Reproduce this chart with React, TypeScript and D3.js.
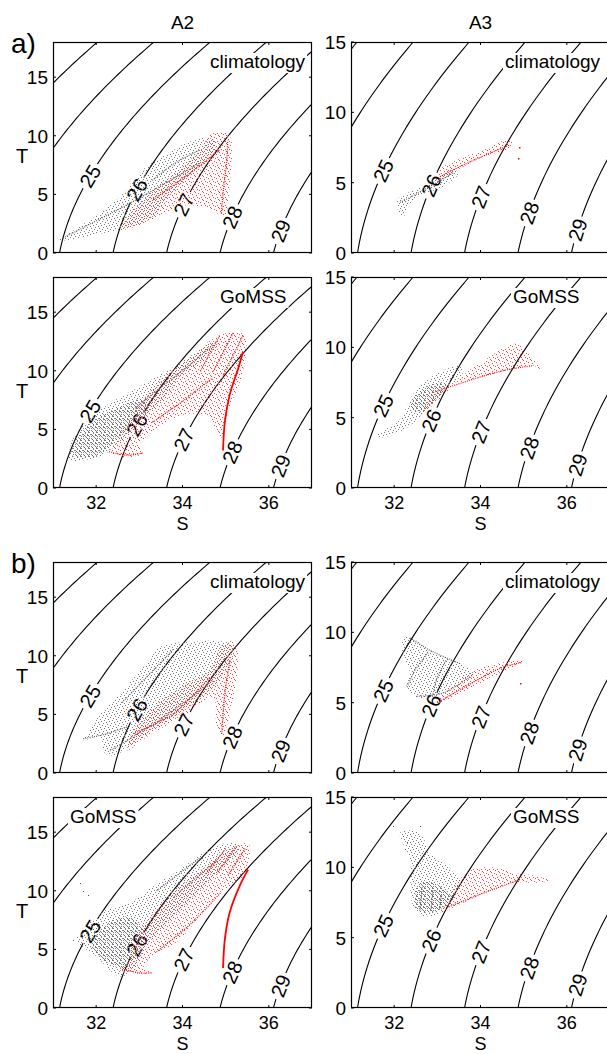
import * as d3 from 'd3'

// axes
const sDomain = [31, 37]
const sTicks = [32, 34, 36]
const tDomainA2 = [0, 18]
const tDomainA3 = [0, 15]
const tTicks = [0, 5, 10, 15]
const isoLevels = [22, 23, 24, 25, 26, 27, 28, 29, 30]
const labelLevels = [25, 26, 27, 28, 29]
const columnNames = ['A2', 'A3']
const groupNames = ['a)', 'b)']
const runNames = ['climatology', 'GoMSS']

// point clouds, as [S, T]:
// outline of the cloud, its dense core, dense streaks and lone points

// a) A2 climatology
const aA2ClimGray = [[31.15, 1.1], [31.6, 2.2], [32.3, 3.98], [32.78, 5.69], [33.08, 7.11], [33.55, 8.25], [34.09, 9.39], [34.47, 9.81], [34.75, 9.6], [34.72, 8.5], [34.32, 7.11], [33.7, 4.84], [33.32, 3.13], [32.93, 2.28], [32.16, 1.71], [31.5, 1.2]]
const aA2ClimGrayLines = [[[31.23, 1.28], [32.81, 4.3], [34.4, 7.68]], [[33.3, 6.2], [33.8, 7.6], [34.4, 8.8]]]
const aA2ClimRed = [[32.54, 2.0], [33.32, 2.84], [33.93, 3.98], [34.4, 3.98], [34.86, 3.3], [34.98, 3.13], [35.09, 5.69], [35.13, 9.67], [35.02, 10.24], [34.63, 10.1], [34.47, 9.1], [34.09, 7.68], [33.55, 5.97], [33.0, 4.27]]
const aA2ClimRedLines = [[[34.9, 3.4], [34.95, 5.5], [35.02, 7.68], [35.05, 9.6]], [[33.32, 4.55], [34.1, 6.6], [34.86, 8.8]]]

// a) A2 GoMSS
const aA2GomGray = [[31.39, 2.36], [31.46, 4.21], [31.77, 5.63], [32.24, 7.05], [32.78, 8.19], [33.32, 9.33], [33.86, 10.47], [34.32, 11.6], [34.71, 12.46], [34.8, 12.2], [34.4, 10.75], [33.93, 9.33], [33.55, 7.62], [33.0, 5.63], [32.54, 3.92], [32.16, 2.79], [31.69, 2.36]]
const aA2GomGrayCore = [[31.45, 2.8], [31.6, 4.4], [32.0, 5.9], [32.6, 7.0], [33.1, 7.6], [33.2, 6.6], [32.8, 5.2], [32.3, 3.5], [31.9, 2.6]]
const aA2GomGrayLines = [[[32.9, 6.8], [33.5, 8.6], [34.2, 10.6], [34.7, 12.2]]]
const aA2GomRed = [[32.31, 3.07], [32.62, 2.65], [33.08, 2.93], [33.0, 3.6], [33.5, 5.3], [34.09, 6.3], [34.6, 6.0], [34.9, 4.3], [35.05, 6.5], [35.4, 9.9], [35.44, 13.0], [35.17, 13.3], [34.71, 12.74], [34.24, 11.3], [33.7, 9.9], [33.16, 7.9], [32.7, 5.35], [32.4, 3.6]]
const aA2GomRedLines = [[[32.3, 3.1], [32.7, 2.8], [33.1, 3.0]], [[34.86, 13.0], [34.4, 9.9]], [[35.17, 13.2], [34.71, 9.9]], [[35.4, 13.0], [34.94, 9.6]], [[33.3, 5.6], [34.0, 7.4], [34.7, 9.4]]]
const aA2GomRedRidge = [[34.94, 3.2], [34.98, 5.63], [35.09, 7.9], [35.29, 10.2], [35.4, 11.6]]

// a) A3 climatology
const aA3ClimGray = [[32.14, 2.7], [32.06, 3.77], [32.29, 4.24], [32.68, 4.72], [33.06, 5.43], [33.37, 6.02], [33.5, 5.7], [33.14, 4.72], [32.75, 4.24], [32.44, 3.77], [32.21, 2.58]]
const aA3ClimGrayLines = [[[32.14, 3.6], [32.7, 4.5], [33.37, 5.7]]]
const aA3ClimRed = [[32.98, 5.07], [33.45, 5.9], [34.07, 6.85], [34.68, 7.44], [34.75, 7.9], [34.45, 7.91], [34.07, 7.32], [33.45, 6.61], [33.06, 5.9]]
const aA3ClimRedLines = [[[33.06, 5.43], [33.68, 6.37], [34.3, 7.2], [34.68, 7.68]]]
const aA3ClimRedDots = [[34.9, 7.56], [34.88, 6.73]]

// a) A3 GoMSS
const aA3GomGray = [[31.59, 3.72], [32.14, 4.9], [32.37, 6.33], [32.6, 7.27], [33.06, 8.22], [33.53, 8.7], [33.6, 8.22], [33.14, 6.8], [32.68, 5.38], [32.37, 4.43], [31.75, 3.6]]
const aA3GomGrayCore = [[32.4, 5.6], [32.5, 6.6], [32.9, 7.4], [33.2, 7.4], [33.0, 6.4], [32.7, 5.5]]
const aA3GomRed = [[32.44, 4.67], [33.06, 6.33], [33.68, 8.22], [34.14, 9.17], [34.61, 10.1], [34.84, 10.24], [35.22, 9.17], [35.38, 8.46], [35.22, 8.7], [34.76, 8.46], [34.14, 7.99], [33.53, 7.51], [32.91, 6.56], [32.52, 4.9]]
const aA3GomRedLines = [[[32.91, 6.8], [33.9, 7.8], [34.6, 8.4], [35.22, 8.7]]]

// b) A2 climatology
const bA2ClimGray = [[31.7, 2.79], [31.75, 3.1], [32.09, 5.06], [32.55, 6.77], [33.09, 9.04], [33.48, 10.75], [34.1, 11.18], [35.1, 11.04], [35.18, 10.18], [34.71, 7.34], [34.1, 5.49], [33.48, 4.07], [32.86, 2.5], [32.4, 1.5], [32.2, 1.7], [32.09, 3.07]]
const bA2ClimGrayLines = [[[32.32, 1.9], [33.5, 4.6], [34.71, 7.9]], [[31.7, 2.93], [32.2, 3.3], [32.71, 3.92]], [[32.6, 6.0], [33.2, 8.3], [33.8, 10.6]]]
const bA2ClimRed = [[32.71, 1.93], [33.17, 3.07], [34.1, 5.06], [34.71, 6.48], [34.79, 3.92], [34.91, 3.07], [35.1, 5.06], [35.29, 10.18], [35.18, 11.32], [34.87, 10.75], [34.64, 8.76], [34.1, 7.62], [33.32, 5.63], [32.86, 3.64]]
const bA2ClimRedLines = [[[32.86, 3.36], [33.79, 5.06], [34.64, 8.19]], [[34.91, 3.36], [34.98, 6.77], [35.1, 9.61]]]

// b) A3 climatology
const bA3ClimGray = [[32.21, 9.67], [32.37, 9.67], [32.83, 8.72], [33.53, 7.77], [33.83, 7.06], [33.14, 5.64], [32.52, 5.4], [32.29, 6.11], [32.37, 7.06], [32.2, 8.5]]
const bA3ClimGrayLines = [[[32.37, 9.6], [32.83, 8.72], [33.53, 7.77]], [[32.52, 5.45], [33.14, 5.7], [33.83, 7.0]], [[32.3, 6.1], [32.5, 7.4], [32.8, 8.6]], [[32.9, 5.6], [33.0, 6.8], [33.2, 8.0]]]
const bA3ClimRed = [[32.98, 4.93], [33.68, 5.88], [34.3, 6.82], [34.84, 7.65], [34.99, 7.89], [34.9, 8.0], [34.37, 7.77], [33.83, 7.3], [33.45, 6.35], [33.06, 5.4]]
const bA3ClimRedLines = [[[33.0, 5.0], [33.8, 6.4], [34.5, 7.5], [34.95, 7.85]]]
const bA3ClimRedDots = [[34.91, 6.4]]

// b) A2 GoMSS
const bA2GomGray = [[31.54, 5.83], [32.0, 4.41], [32.39, 2.99], [32.54, 2.7], [32.78, 2.99], [33.16, 5.26], [33.63, 7.25], [34.24, 9.53], [34.86, 11.8], [35.32, 13.8], [35.02, 14.08], [34.47, 13.2], [33.93, 11.8], [33.32, 10.38], [32.78, 8.96], [32.24, 8.39], [31.77, 6.97]]
const bA2GomGrayCore = [[31.9, 5.2], [32.3, 3.8], [32.7, 3.5], [33.0, 5.2], [33.1, 6.8], [32.7, 7.8], [32.2, 7.0]]
const bA2GomGrayLines = [[[33.4, 10.0], [34.4, 12.8]], [[33.8, 9.5], [34.8, 12.6]]]
const bA2GomGrayDots = [[31.62, 10.67], [31.46, 5.83], [31.7, 10.0], [31.8, 9.6]]
const bA2GomRed = [[32.54, 3.27], [33.24, 2.99], [33.1, 3.6], [33.32, 4.41], [33.93, 5.83], [34.4, 7.82], [34.86, 9.81], [35.21, 10.6], [35.44, 11.5], [35.56, 13.8], [35.48, 14.08], [35.09, 13.5], [34.55, 12.1], [33.93, 10.38], [33.47, 8.67], [32.93, 6.11], [32.7, 3.84]]
const bA2GomRedLines = [[[32.6, 3.3], [33.0, 3.0], [33.3, 3.0]], [[35.0, 13.6], [34.55, 11.5]], [[35.25, 13.8], [34.8, 11.5]], [[35.45, 13.6], [35.05, 11.3]], [[33.4, 4.8], [34.2, 7.2], [34.9, 9.9]]]
const bA2GomRedRidge = [[34.94, 3.41], [34.98, 5.83], [35.09, 8.1], [35.32, 10.38], [35.52, 11.8]]

// b) A3 GoMSS
const bA3GomGray = [[32.37, 9.15], [32.44, 7.25], [32.68, 6.54], [33.06, 6.78], [33.45, 8.2], [33.53, 8.9], [33.22, 10.1], [32.83, 11.0], [32.6, 12.46], [32.14, 12.46], [32.37, 10.57]]
const bA3GomGrayCore = [[32.5, 7.2], [32.7, 6.8], [33.1, 7.1], [33.3, 7.9], [33.0, 8.8], [32.6, 8.9]]
const bA3GomGrayLines = [[[32.6, 7.0], [32.65, 8.6]], [[32.85, 6.9], [32.9, 8.4]], [[33.05, 7.0], [33.1, 8.1]]]
const bA3GomGrayDots = [[31.98, 12.94], [32.6, 12.94], [32.2, 12.2], [32.3, 11.8], [32.25, 11.3]]
const bA3GomRed = [[33.06, 6.78], [33.6, 7.49], [34.22, 8.32], [34.76, 8.9], [35.3, 8.9], [35.61, 9.03], [35.3, 9.38], [34.76, 9.62], [34.3, 9.98], [33.83, 9.86], [33.45, 8.9], [33.22, 7.49]]
const bA3GomRedLines = [[[33.22, 7.13], [33.99, 8.08], [34.61, 8.79], [34.92, 9.15]]]

const panels = [
  { group: 0, run: 0, col: 0, tagDx: 157, gray: aA2ClimGray, grayLines: aA2ClimGrayLines, red: aA2ClimRed, redLines: aA2ClimRedLines },
  { group: 0, run: 0, col: 1, tagDx: 154, gray: aA3ClimGray, grayLines: aA3ClimGrayLines, red: aA3ClimRed, redLines: aA3ClimRedLines, redDots: aA3ClimRedDots },
  { group: 0, run: 1, col: 0, tagDx: 167, gray: aA2GomGray, grayCore: aA2GomGrayCore, grayLines: aA2GomGrayLines, red: aA2GomRed, redLines: aA2GomRedLines, redRidge: aA2GomRedRidge },
  { group: 0, run: 1, col: 1, tagDx: 162, gray: aA3GomGray, grayCore: aA3GomGrayCore, red: aA3GomRed, redLines: aA3GomRedLines },
  { group: 1, run: 0, col: 0, tagDx: 157, gray: bA2ClimGray, grayLines: bA2ClimGrayLines, red: bA2ClimRed, redLines: bA2ClimRedLines },
  { group: 1, run: 0, col: 1, tagDx: 154, gray: bA3ClimGray, grayLines: bA3ClimGrayLines, red: bA3ClimRed, redLines: bA3ClimRedLines, redDots: bA3ClimRedDots },
  { group: 1, run: 1, col: 0, tagDx: 17, gray: bA2GomGray, grayCore: bA2GomGrayCore, grayLines: bA2GomGrayLines, grayDots: bA2GomGrayDots, red: bA2GomRed, redLines: bA2GomRedLines, redRidge: bA2GomRedRidge },
  { group: 1, run: 1, col: 1, tagDx: 162, gray: bA3GomGray, grayCore: bA3GomGrayCore, grayLines: bA3GomGrayLines, grayDots: bA3GomGrayDots, red: bA3GomRed, redLines: bA3GomRedLines },
]

// layout
const colX = [53, 351]
const rowY = [42, 277, 562, 797]
const W = 259
const H = 211
const labelFrac = [[0.635, 0.7, 0.77, 0.83, 0.895], [0.61, 0.68, 0.735, 0.81, 0.89]]
const font = '"Liberation Sans", Arial, Helvetica, sans-serif'

// UNESCO 1980 density at the surface, minus 1000
const sigmaT = (S: number, T: number) => {
  const rw = 999.842594 + 6.793952e-2 * T - 9.09529e-3 * T ** 2 + 1.001685e-4 * T ** 3 - 1.120083e-6 * T ** 4 + 6.536332e-9 * T ** 5
  const a = 8.24493e-1 - 4.0899e-3 * T + 7.6438e-5 * T ** 2 - 8.2467e-7 * T ** 3 + 5.3875e-9 * T ** 4
  const b = -5.72466e-3 + 1.0227e-4 * T - 1.6546e-6 * T ** 2
  return rw + a * S + b * S ** 1.5 + 4.8314e-4 * S * S - 1000
}

// salinity where the isopycnal crosses temperature T (bisection)
const salinityOn = (level: number, T: number) => {
  let lo = 20
  let hi = 45
  for (let i = 0; i < 40; i++) {
    const mid = (lo + hi) / 2
    if (sigmaT(mid, T) < level) lo = mid
    else hi = mid
  }
  return (lo + hi) / 2
}

const tSamples = d3.range(-1, 20.01, 0.25)
const isolines = isoLevels.map(level => tSamples.map(T => [salinityOn(level, T), T]))

let measureCtx: CanvasRenderingContext2D | null = null
const textWidth = (text: string, size: number) => {
  if (!measureCtx) measureCtx = document.createElement('canvas').getContext('2d')
  if (!measureCtx) return text.length * size * 0.5
  measureCtx.font = `${size}px "Liberation Sans"`
  return measureCtx.measureText(text).width
}

// stipple tiles (pixel cells) used to texture the point clouds
const grayCells = [[0, 0], [5, 1], [2, 2], [7, 3], [3, 4], [6, 5], [1, 6], [4, 7]]
const redCells = [[3, 0], [6, 1], [0, 2], [4, 3], [1, 5], [5, 5], [7, 6], [2, 7]]
const coreCells = [[1, 0], [3, 2], [0, 3]]

const Pattern = ({ id, size, cells, color }) => (
  <pattern id={id} width={size} height={size} patternUnits="userSpaceOnUse">
    {cells.map(([cx, cy], i) => (
      <rect key={i} x={cx} y={cy} width={1} height={1} fill={color} />
    ))}
  </pattern>
)

const Panel = ({ p, index }) => {
  const row = p.group * 2 + p.run
  const x0 = colX[p.col]
  const y0 = rowY[row]
  const x = d3.scaleLinear().domain(sDomain).range([x0, x0 + W])
  const y = d3.scaleLinear().domain(p.col === 0 ? tDomainA2 : tDomainA3).range([y0 + H, y0])
  const line = d3.line<number[]>().x(d => x(d[0])).y(d => y(d[1]))
  const smooth = d3.line<number[]>().x(d => x(d[0])).y(d => y(d[1])).curve(d3.curveCatmullRom)
  const hull = d3.line<number[]>().x(d => x(d[0])).y(d => y(d[1])).curve(d3.curveCatmullRomClosed)
  const clipId = `clip${index}`
  const showX = p.run === 1
  const tag = runNames[p.run]
  const tagW = textWidth(tag, 19)
  const tagX = x0 + p.tagDx

  const labels = labelLevels.map((level, i) => {
    const py = y0 + labelFrac[p.col][i] * H
    const T = y.invert(py)
    const px = x(salinityOn(level, T))
    const T2 = T + 0.3
    const ang = (Math.atan2(y(T2) - py, x(salinityOn(level, T2)) - px) * 180) / Math.PI
    return { level, px, py, ang }
  })

  return (
    <g>
      <clipPath id={clipId}>
        <rect x={x0} y={y0} width={W} height={H} />
      </clipPath>
      <g clipPath={`url(#${clipId})`}>
        {isolines.map((pts, i) => (
          <path key={i} d={line(pts) ?? ''} fill="none" stroke="#000" strokeWidth={1.1} />
        ))}
        {labels.map(l => (
          <g key={l.level} transform={`translate(${l.px},${l.py}) rotate(${l.ang})`}>
            <rect x={-14} y={-10} width={28} height={20} fill="#fff" />
            <text textAnchor="middle" dy="0.36em" fontSize={20} fontFamily={font}>
              {l.level}
            </text>
          </g>
        ))}
        <path d={hull(p.gray) ?? ''} fill="url(#grayLight)" />
        {p.grayCore && <path d={hull(p.grayCore) ?? ''} fill="url(#grayCore)" />}
        {(p.grayLines ?? []).map((pts, i) => (
          <path key={i} d={smooth(pts) ?? ''} fill="none" stroke="#555" strokeWidth={1.1} strokeDasharray="1 1.2" />
        ))}
        {(p.grayDots ?? []).map((d, i) => (
          <rect key={i} x={Math.round(x(d[0]))} y={Math.round(y(d[1]))} width={1} height={1} fill="#555" />
        ))}
        <path d={hull(p.red) ?? ''} fill="url(#redLight)" />
        {(p.redLines ?? []).map((pts, i) => (
          <path key={i} d={smooth(pts) ?? ''} fill="none" stroke="#f00" strokeWidth={1.2} strokeDasharray="1 1.2" />
        ))}
        {p.redRidge && <path d={smooth(p.redRidge) ?? ''} fill="none" stroke="#f00" strokeWidth={1.8} />}
        {(p.redDots ?? []).map((d, i) => (
          <rect key={i} x={Math.round(x(d[0]))} y={Math.round(y(d[1]))} width={1.5} height={1.5} fill="#f00" />
        ))}
      </g>
      <rect x={x0 + 0.5} y={y0 + 0.5} width={W - 1} height={H - 1} fill="none" stroke="#000" strokeWidth={1.2} />
      {tTicks.map(t => (
        <g key={t}>
          <line x1={x0} x2={x0 + 3} y1={y(t)} y2={y(t)} stroke="#000" />
          <line x1={x0 + W - 3} x2={x0 + W} y1={y(t)} y2={y(t)} stroke="#000" />
          <text x={x0 - 5} y={y(t)} dy="0.36em" textAnchor="end" fontSize={19} fontFamily={font}>
            {t}
          </text>
        </g>
      ))}
      {sTicks.map(s => (
        <g key={s}>
          <line x1={x(s)} x2={x(s)} y1={y0 + H} y2={y0 + H - 3} stroke="#000" />
          <line x1={x(s)} x2={x(s)} y1={y0} y2={y0 + 3} stroke="#000" />
          {showX && (
            <text x={x(s)} y={y0 + H + 15} dy="0.36em" textAnchor="middle" fontSize={18} fontFamily={font}>
              {s}
            </text>
          )}
        </g>
      ))}
      {showX && (
        <text x={x0 + W / 2} y={y0 + H + 42} textAnchor="middle" fontSize={18} fontFamily={font}>
          S
        </text>
      )}
      {p.col === 0 && (
        <text x={22} y={y0 + H / 2 + 8} dy="0.36em" textAnchor="middle" fontSize={20} fontFamily={font}>
          T
        </text>
      )}
      <rect x={tagX - 2} y={y0 + 11} width={tagW + 4} height={20} fill="#fff" />
      <text x={tagX} y={y0 + 26} fontSize={19} fontFamily={font}>
        {tag}
      </text>
      {row === 0 && (
        <text x={x0 + W / 2} y={22} dy="0.36em" textAnchor="middle" fontSize={19} fontFamily={font}>
          {columnNames[p.col]}
        </text>
      )}
      {p.run === 0 && p.col === 0 && (
        <text x={11} y={y0 + 11} fontSize={28} fontFamily={font}>
          {groupNames[p.group]}
        </text>
      )}
    </g>
  )
}

export default function App() {
  return (
    <div>
      <style>{'body{margin:0}'}</style>
      <svg width={607} height={1054} style={{ display: 'block', background: '#fff' }}>
        <defs>
          <Pattern id="grayLight" size={8} cells={grayCells} color="#777" />
          <Pattern id="grayCore" size={4} cells={coreCells} color="#777" />
          <Pattern id="redLight" size={8} cells={redCells} color="#ff3c3c" />
        </defs>
        {panels.map((p, i) => (
          <Panel key={i} p={p} index={i} />
        ))}
      </svg>
    </div>
  )
}
